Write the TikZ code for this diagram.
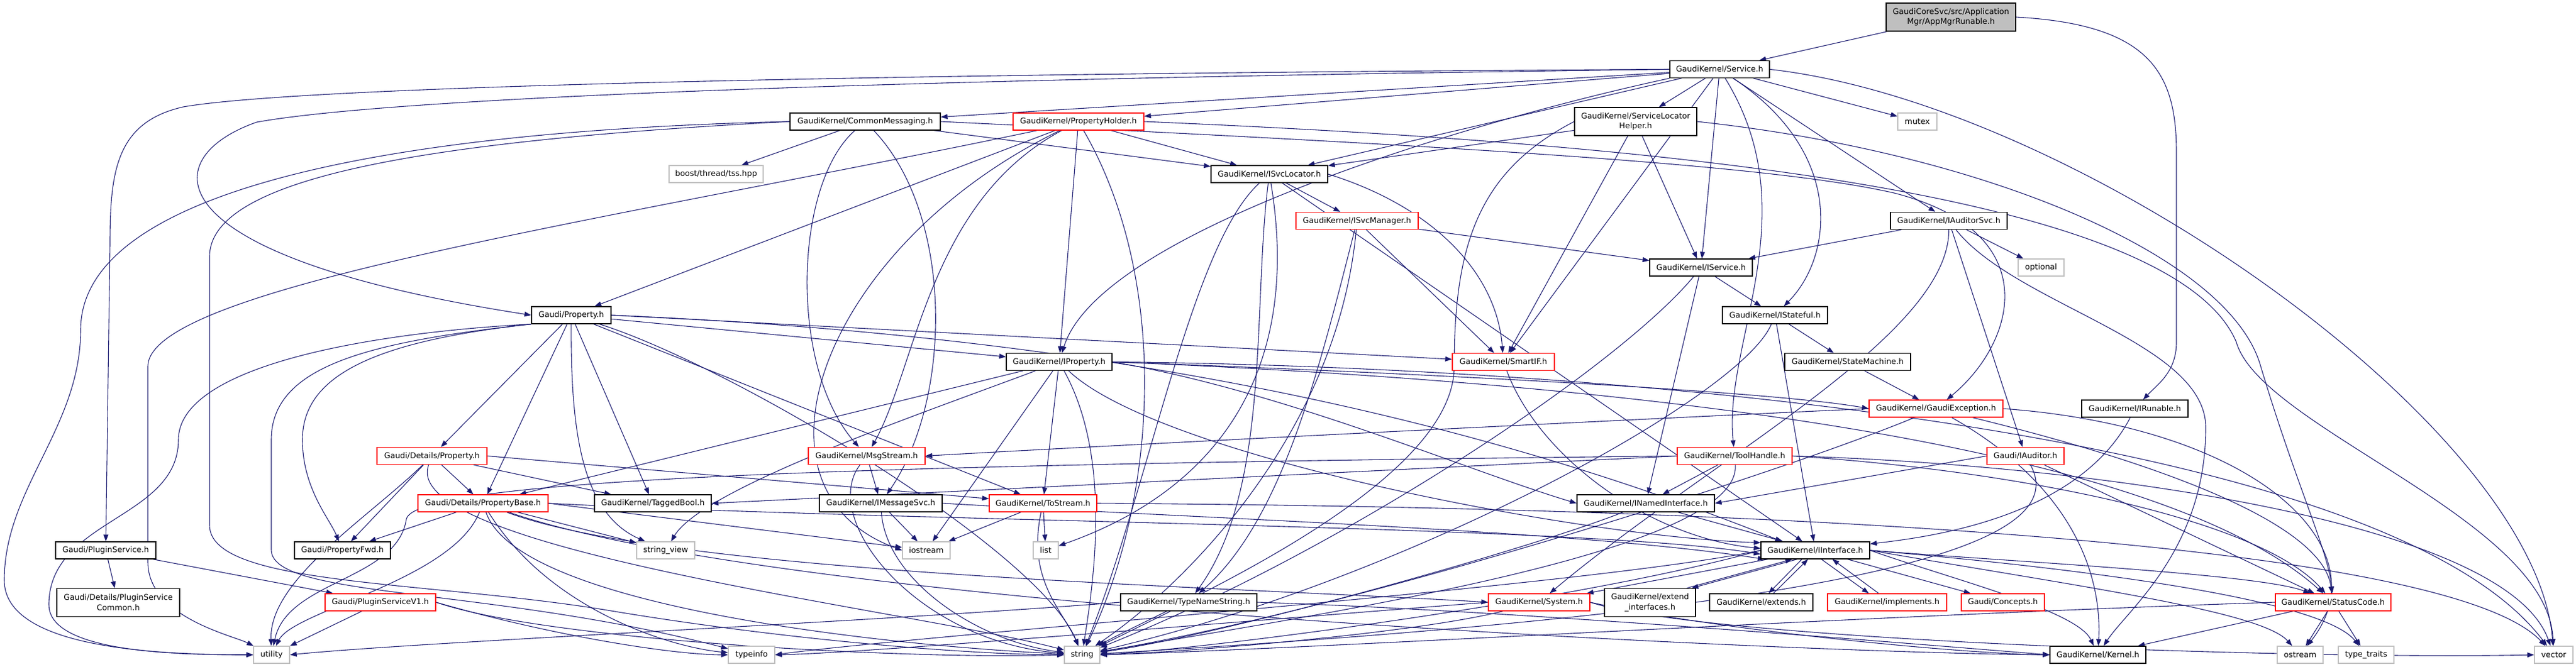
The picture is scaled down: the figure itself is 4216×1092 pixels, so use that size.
\documentclass[tikz,border=0pt]{standalone}
\usepackage{fontspec}
\setmainfont{DejaVu Sans}
\usetikzlibrary{arrows.meta}
\definecolor{edgeblue}{HTML}{191970}
\definecolor{lightgr}{HTML}{BFBFBF}
\pgfdeclarelayer{edgelayer}
\pgfsetlayers{edgelayer,main}
\begin{document}
\begin{tikzpicture}[x=1pt,y=-1pt,
 box/.style={draw=black,fill=white,line width=1.3pt,inner sep=0pt,minimum height=28pt,
   font=\fontsize{12.9}{16.8}\selectfont,align=center},
 trunc/.style={box,draw=red},
 sysbox/.style={box,draw=lightgr},
 mainbox/.style={box,fill=lightgr},
 two/.style={minimum height=46pt},
 edg/.style={draw=edgeblue,line width=1.1pt,-{Triangle[length=11pt,width=8pt]}}]
\useasboundingbox (0,0) rectangle (4216,1092);
% nodes
\node[mainbox,two,minimum width=212pt] (app) at (3193,28) {GaudiCoreSvc/src/Application\\Mgr/AppMgrRunable.h};
\node[box,minimum width=163pt] (svc) at (2814.5,113.5) {GaudiKernel/Service.h};
\node[box,minimum width=246pt] (cmsg) at (1416,199) {GaudiKernel/CommonMessaging.h};
\node[trunc,minimum width=214pt] (ph) at (1765,199) {GaudiKernel/PropertyHolder.h};
\node[box,two,minimum width=200pt] (slh) at (2677,199) {GaudiKernel/ServiceLocator\\Helper.h};
\node[sysbox,minimum width=64pt] (mutex) at (3138,199) {mutex};
\node[sysbox,minimum width=154pt] (boost) at (1172,285) {boost/thread/tss.hpp};
\node[box,minimum width=191pt] (isl) at (2077.5,285) {GaudiKernel/ISvcLocator.h};
\node[trunc,minimum width=200pt] (ism) at (2221,361.5) {GaudiKernel/ISvcManager.h};
\node[box,minimum width=191pt] (ias) at (3189.5,361.5) {GaudiKernel/IAuditorSvc.h};
\node[box,minimum width=168pt] (isv) at (2784,438) {GaudiKernel/IService.h};
\node[sysbox,minimum width=75pt] (opt) at (3340.5,438) {optional};
\node[box,minimum width=130pt] (prop) at (935,516) {Gaudi/Property.h};
\node[box,minimum width=172pt] (ist) at (2905,516) {GaudiKernel/IStateful.h};
\node[box,minimum width=173pt] (iprop) at (1733.5,592.5) {GaudiKernel/IProperty.h};
\node[trunc,minimum width=167pt] (smart) at (2460.5,592.5) {GaudiKernel/SmartIF.h};
\node[box,minimum width=206pt] (sm) at (3024,592.5) {GaudiKernel/StateMachine.h};
\node[trunc,minimum width=219pt] (gexc) at (3168.5,669) {GaudiKernel/GaudiException.h};
\node[box,minimum width=174pt] (irun) at (3494,669) {GaudiKernel/IRunable.h};
\node[trunc,minimum width=180pt] (dprop) at (707,746.5) {Gaudi/Details/Property.h};
\node[trunc,minimum width=191pt] (msg) at (1418.5,746.5) {GaudiKernel/MsgStream.h};
\node[trunc,minimum width=188pt] (tool) at (2839,746.5) {GaudiKernel/ToolHandle.h};
\node[trunc,minimum width=126pt] (iaud) at (3315,746.5) {Gaudi/IAuditor.h};
\node[trunc,minimum width=213pt] (pbase) at (790.5,824) {Gaudi/Details/PropertyBase.h};
\node[box,minimum width=191pt] (tbool) at (1068.5,824) {GaudiKernel/TaggedBool.h};
\node[box,minimum width=201pt] (imsg) at (1441.5,824) {GaudiKernel/IMessageSvc.h};
\node[trunc,minimum width=176pt] (tostr) at (1707,824) {GaudiKernel/ToStream.h};
\node[box,minimum width=225pt] (inamed) at (2693.5,824) {GaudiKernel/INamedInterface.h};
\node[box,minimum width=164pt] (plug) at (173,901) {Gaudi/PluginService.h};
\node[box,minimum width=157pt] (pfwd) at (560.5,901) {Gaudi/PropertyFwd.h};
\node[sysbox,minimum width=95pt] (sview) at (1089.5,901) {string\_view};
\node[sysbox,minimum width=78pt] (iostr) at (1516,901) {iostream};
\node[sysbox,minimum width=41pt] (list) at (1711.5,901) {list};
\node[box,minimum width=178pt] (iint) at (2971,901) {GaudiKernel/IInterface.h};
\node[box,two,minimum width=201pt] (pcom) at (193.5,986.5) {Gaudi/Details/PluginService\\Common.h};
\node[trunc,minimum width=181pt] (pv1) at (622.5,986) {Gaudi/PluginServiceV1.h};
\node[box,minimum width=223pt] (tns) at (1945.5,986) {GaudiKernel/TypeNameString.h};
\node[trunc,minimum width=166pt] (sys) at (2519,986) {GaudiKernel/System.h};
\node[box,two,minimum width=149pt] (extif) at (2700.5,986.5) {GaudiKernel/extend\\\_interfaces.h};
\node[box,minimum width=169pt] (extd) at (2882.5,986) {GaudiKernel/extends.h};
\node[trunc,minimum width=195pt] (impl) at (3088.5,986) {GaudiKernel/implements.h};
\node[trunc,minimum width=136pt] (conc) at (3278,986) {Gaudi/Concepts.h};
\node[trunc,minimum width=189pt] (sc) at (3818.5,986) {GaudiKernel/StatusCode.h};
\node[sysbox,minimum width=59pt] (util) at (444.5,1072) {utility};
\node[sysbox,minimum width=76pt] (tinfo) at (1230,1072) {typeinfo};
\node[sysbox,minimum width=58pt] (str) at (1771,1072) {string};
\node[box,minimum width=157pt] (kern) at (3433.5,1072) {GaudiKernel/Kernel.h};
\node[sysbox,minimum width=75pt] (ostr) at (3764.5,1072) {ostream};
\node[sysbox,minimum width=91pt] (tt) at (3872.5,1072) {type\_traits};
\node[sysbox,minimum width=63pt] (vec) at (4179.5,1072) {vector};
% edges (drawn beneath the boxes)
\begin{pgfonlayer}{edgelayer}
\fill[white] (0,0) rectangle (4216,1092);
\draw[edg] (app) -- (svc);
\draw[edg] (app.east) .. controls (3520,40) and (3562,120) .. (3562,250) -- (3562,560) .. controls (3562,610) and (3530,630) .. (irun);
% Service
\draw[edg] (svc) -- (cmsg);
\draw[edg] (svc) -- (ph);
\draw[edg] (svc) -- (slh);
\draw[edg] (svc) -- (mutex);
\draw[edg] (svc) -- (ias);
\draw[edg] (svc) -- (isl);
\draw[edg] (svc) -- (isv);
\draw[edg] (svc) .. controls (3020,250) and (3000,420) .. (ist);
\draw[edg] (svc) -- (smart);
\draw[edg] (svc.south west) .. controls (2400,200) and (1800,380) .. (iprop);
\draw[edg] (svc) .. controls (2960,350) and (2820,560) .. (tool);
\draw[edg] (svc.east) .. controls (3400,170) and (4150,700) .. (vec);
\draw[edg] (svc.west) .. controls (1800,125) and (700,150) .. (420,200) .. controls (250,260) and (250,420) .. (prop.west);
\draw[edg] (svc.west) .. controls (1500,120) and (500,140) .. (300,175) .. controls (190,200) and (180,280) .. (180,400) -- (plug);
% CommonMessaging
\draw[edg] (cmsg) -- (boost);
\draw[edg] (cmsg) -- (isl);
\draw[edg] (cmsg.west) .. controls (600,215) and (132,320) .. (132,540) .. controls (132,700) and (7,800) .. (7,950) .. controls (7,1060) and (250,1072) .. (util.west);
\draw[edg] (cmsg.west) .. controls (700,230) and (343,290) .. (343,420) -- (343,860) .. controls (343,960) and (700,950) .. (1000,1000) .. controls (1300,1050) and (1600,1072) .. (str.west);
\draw[edg] (cmsg) .. controls (1300,300) and (1290,600) .. (msg);
\draw[edg] (cmsg) .. controls (1560,350) and (1560,650) .. (imsg);
\draw[edg] (cmsg.east) .. controls (2400,240) and (2900,270) .. (3100,316) .. controls (3350,380) and (3300,560) .. (gexc);
% PropertyHolder
\draw[edg] (ph) -- (prop);
\draw[edg] ([xshift=40pt]ph.south west) .. controls (1000,360) and (242,470) .. (242,600) -- (242,920) .. controls (242,1010) and (380,1040) .. (util);
\draw[edg] (ph) -- (isl);
\draw[edg] (ph) -- (iprop);
\draw[edg] (ph) .. controls (1520,330) and (1500,600) .. (msg);
\draw[edg] (ph) .. controls (1910,450) and (1900,800) .. (str);
\draw[edg] (ph) .. controls (1350,400) and (1200,800) .. (iostr.west);
\draw[edg] (ph.east) .. controls (2600,230) and (3550,300) .. (3660,560) .. controls (3700,700) and (4170,850) .. (vec);
% ServiceLocatorHelper
\draw[edg] (slh) -- (isl);
\draw[edg] (slh) -- (isv);
\draw[edg] (slh) -- (smart);
\draw[edg] (slh.west) .. controls (2420,280) and (2380,400) .. (2380,600) .. controls (2380,800) and (1900,1000) .. (str);
\draw[edg] (slh.east) .. controls (3250,250) and (3650,420) .. (3700,600) .. controls (3760,800) and (3810,900) .. (sc);
% ISvcLocator
\draw[edg] (isl) -- (ism);
\draw[edg] (isl) .. controls (2050,500) and (2080,800) .. (tns);
\draw[edg] (isl.east) .. controls (2350,340) and (2450,450) .. (smart);
\draw[edg] (isl) -- (iint);
\draw[edg] (isl) .. controls (1950,400) and (1880,800) .. (str);
\draw[edg] (isl) .. controls (2130,600) and (2000,800) .. (list);
% ISvcManager
\draw[edg] (ism) -- (isv);
\draw[edg] (ism) .. controls (2160,600) and (2100,850) .. (tns);
\draw[edg] (ism) .. controls (2190,700) and (1950,950) .. (str);
\draw[edg] (ism) -- (smart);
% IAuditorSvc
\draw[edg] (ias) -- (isv);
\draw[edg] (ias) -- (opt);
\draw[edg] (ias) -- (iaud);
\draw[edg] (ias) .. controls (3190,550) and (2800,750) .. (sys);
\draw[edg] (ias) .. controls (3300,500) and (3610,560) .. (3610,700) .. controls (3610,900) and (3480,1000) .. (kern);
% IService
\draw[edg] (isv) -- (ist);
\draw[edg] (isv) -- (inamed);
\draw[edg] (isv) .. controls (2650,600) and (2200,900) .. (str);
% IStateful
\draw[edg] (ist) -- (sm);
\draw[edg] (ist) -- (iint);
\draw[edg] (ist) .. controls (2850,650) and (2300,950) .. (str);
% Property.h
\draw[edg] (prop) -- (dprop);
\draw[edg] (prop) -- (pbase);
\draw[edg] (prop.south west) .. controls (600,560) and (495,620) .. (495,720) .. controls (495,800) and (540,850) .. (pfwd);
\draw[edg] (prop) -- (iprop);
\draw[edg] (prop.east) -- (smart);
\draw[edg] (prop) -- (tbool);
\draw[edg] (prop) -- (tostr);
\draw[edg] (prop) .. controls (934,700) and (950,840) .. (sview);
\draw[edg] (prop.south west) .. controls (600,545) and (292,600) .. (292,720) .. controls (292,850) and (80,850) .. (80,990) .. controls (80,1070) and (300,1072) .. (util.west);
\draw[edg] (prop.south west) .. controls (600,560) and (444,600) .. (444,720) -- (444,900) .. controls (444,980) and (800,960) .. (tinfo);
\draw[edg] (prop) .. controls (1200,600) and (1700,900) .. (str);
\draw[edg] (prop.east) .. controls (1800,550) and (2400,680) .. (iint.165);
% IProperty
\draw[edg] (iprop) -- (pbase);
\draw[edg] (iprop) .. controls (1500,680) and (1150,800) .. (sview);
\draw[edg] (iprop) -- (iostr);
\draw[edg] (iprop) -- (tostr);
\draw[edg] (iprop) .. controls (1820,750) and (1790,950) .. (str);
\draw[edg] (iprop.east) .. controls (2100,640) and (2400,770) .. (inamed.west);
\draw[edg] (iprop) .. controls (1900,750) and (2600,880) .. (iint.172);
\draw[edg] (iprop.east) .. controls (2300,610) and (2900,640) .. (gexc.west);
\draw[edg] (iprop.east) .. controls (2500,620) and (3500,700) .. (sc);
\draw[edg] (iprop.east) .. controls (2600,600) and (3900,700) .. (vec);
% SmartIF, StateMachine
\draw[edg] (smart) .. controls (2520,750) and (2700,880) .. (iint.178);
\draw[edg] (sm) -- (gexc);
% GaudiException
\draw[edg] (gexc.west) .. controls (2600,690) and (1800,730) .. (msg.east);
\draw[edg] (gexc) .. controls (2900,780) and (2200,1000) .. (str);
\draw[edg] (gexc) .. controls (3500,750) and (3800,850) .. (sc);
\draw[edg] (gexc) .. controls (3400,800) and (3440,950) .. (kern);
\draw[edg] (gexc.east) .. controls (3700,700) and (3900,900) .. (ostr);
% IRunable
\draw[edg] (irun) .. controls (3400,850) and (3150,880) .. (iint);
% Details/Property
\draw[edg] (dprop) -- (pfwd);
\draw[edg] (dprop) .. controls (600,850) and (440,950) .. (util);
\draw[edg] (dprop) -- (pbase);
\draw[edg] (dprop) -- (tbool);
\draw[edg] (dprop.east) -- (tostr);
\draw[edg] (dprop) .. controls (650,900) and (1500,1000) .. (str);
% MsgStream
\draw[edg] (msg) -- (imsg);
\draw[edg] (msg) .. controls (1340,850) and (1500,1050) .. (str);
% ToolHandle
\draw[edg] (tool) -- (inamed);
\draw[edg] (tool.west) -- (tbool.east);
\draw[edg] (tool.west) .. controls (1500,760) and (680,780) .. (665,850) .. controls (650,950) and (470,950) .. (util);
\draw[edg] (tool) .. controls (2850,900) and (2200,1000) .. (str);
\draw[edg] (tool.east) .. controls (3300,770) and (3700,850) .. (sc);
\draw[edg] (tool.east) .. controls (3400,760) and (4100,850) .. (vec);
% IAuditor
\draw[edg] (iaud.west) -- (inamed.east);
\draw[edg] (iaud) .. controls (3400,900) and (3000,1000) .. (str);
\draw[edg] (iaud) -- (sc);
% PropertyBase
\draw[edg] (pbase) -- (pfwd);
\draw[edg] (pbase) .. controls (740,950) and (480,1000) .. (util);
\draw[edg] (pbase) .. controls (850,1000) and (1500,1060) .. (str);
\draw[edg] (pbase) -- (sview);
\draw[edg] (pbase.east) -- (iostr);
\draw[edg] (pbase.east) .. controls (1500,855) and (2600,860) .. (iint.184);
\draw[edg] (pbase) .. controls (1100,940) and (2000,960) .. (sys.west);
\draw[edg] (pbase) .. controls (900,1000) and (1100,1060) .. (tinfo);
\draw[edg] (pbase) .. controls (1300,1000) and (3000,1070) .. (kern.west);
% IMessageSvc
\draw[edg] (imsg) -- (iostr);
\draw[edg] (imsg) .. controls (1450,950) and (1600,1050) .. (str);
\draw[edg] (imsg.east) .. controls (2000,850) and (2600,870) .. (iint.190);
% ToStream
\draw[edg] (tostr) -- (iostr);
\draw[edg] (tostr) -- (list);
\draw[edg] (tostr) .. controls (1680,950) and (1740,1000) .. (str);
\draw[edg] (tostr.east) .. controls (2800,830) and (4000,880) .. (vec);
% INamedInterface
\draw[edg] (inamed) -- (iint);
\draw[edg] (inamed) .. controls (2500,900) and (2000,1040) .. (str);
% PluginService
\draw[edg] (plug) -- (pcom);
\draw[edg] (plug) -- (pv1);
% IInterface
\draw[edg] (iint) -- (sys);
\draw[edg] ([xshift=-30pt]iint.south) -- ([xshift=68pt]extif.north);
\draw[edg] ([xshift=60pt]extif.north) -- ([xshift=-38pt]iint.south);
\draw[edg] ([xshift=-22pt]iint.south) -- ([xshift=12pt]extd.north);
\draw[edg] ([xshift=20pt]extd.north) -- ([xshift=-12pt]iint.south);
\draw[edg] ([xshift=10pt]iint.south) -- ([xshift=-30pt]impl.north);
\draw[edg] ([xshift=-14pt]impl.north) -- ([xshift=28pt]iint.south);
\draw[edg] (iint) -- (conc);
\draw[edg] (iint.east) .. controls (3300,920) and (3700,940) .. (sc);
\draw[edg] (iint.east) .. controls (3200,950) and (3400,1000) .. (kern);
\draw[edg] (iint.east) .. controls (3400,960) and (3700,1000) .. (ostr);
\draw[edg] (iint.east) .. controls (3400,930) and (3800,980) .. (tt);
\draw[edg] (iint.west) .. controls (2600,960) and (1500,1040) .. (tinfo.east);
\draw[edg] (iint.west) .. controls (2600,980) and (2000,1060) .. (str.east);
% PluginServiceV1
\draw[edg] (pv1) -- (util);
\draw[edg] (pv1.east) .. controls (900,1040) and (1100,1072) .. (tinfo.west);
\draw[edg] (pv1.east) .. controls (900,1050) and (1500,1080) .. (str.west);
% TypeNameString
\draw[edg] (tns) -- (str);
\draw[edg] (tns.west) .. controls (1400,1020) and (700,1050) .. (util.east);
\draw[edg] (tns.east) .. controls (2500,1000) and (3200,1060) .. (kern.west);
% System
\draw[edg] (sys.west) .. controls (2000,1020) and (1400,1070) .. (tinfo.east);
\draw[edg] (sys) .. controls (2300,1040) and (1900,1070) .. (str.east);
\draw[edg] (sys.east) .. controls (2800,1030) and (3200,1070) .. (kern.west);
\draw[edg] (sys.east) .. controls (2800,1050) and (3800,1080) .. (vec.west);
% StatusCode
\draw[edg] (sc) -- (kern);
\draw[edg] (sc) -- (ostr);
\draw[edg] (sc) -- (tt);
\draw[edg] (sc.west) .. controls (3000,1010) and (2200,1060) .. (str.east);
\end{pgfonlayer}
\end{tikzpicture}
\end{document}
